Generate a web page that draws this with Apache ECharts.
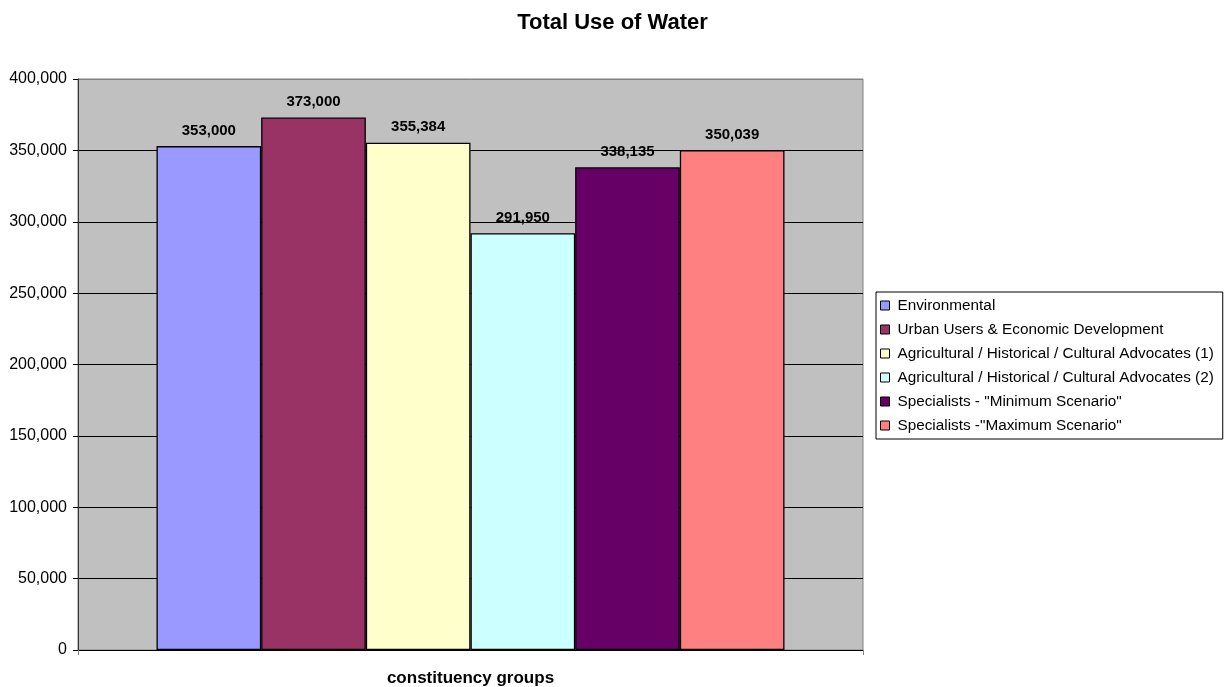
<!DOCTYPE html>
<html>
<head>
<meta charset="utf-8">
<title>Total Use of Water</title>
<script src="https://cdn.jsdelivr.net/npm/echarts@6/dist/echarts.min.js"></script>
<style>
  html, body { margin: 0; padding: 0; background: #fff; }
  #chart { width: 1225px; height: 687px; }
</style>
</head>
<body>
<div id="chart"></div>
<script>
// Constituency groups and their total water use
const groups = [
  'Environmental',
  'Urban Users & Economic Development',
  'Agricultural / Historical / Cultural Advocates (1)',
  'Agricultural / Historical / Cultural Advocates (2)',
  'Specialists - "Minimum Scenario"',
  'Specialists -"Maximum Scenario"'
];
const totals = [353000, 373000, 355384, 291950, 338135, 350039];
const groupColors = ['#9999FF', '#993366', '#FFFFCC', '#CCFFFF', '#660066', '#FF8080'];
const yTicks = { min: 0, max: 400000, step: 50000 };

const FONT = '"Liberation Sans", Arial, sans-serif';
const fmt = v => String(v).replace(/\B(?=(\d{3})+(?!\d))/g, ',');

const chart = echarts.init(document.getElementById('chart'), null, { renderer: 'canvas' });

const series = groups.map((name, i) => ({
  name,
  type: 'bar',
  data: [totals[i]],
  barGap: '0%',
  barCategoryGap: '20%',
  itemStyle: { color: groupColors[i], borderColor: '#000', borderWidth: 1.3 },
  label: {
    show: true,
    position: 'top',
    distance: 8,
    formatter: p => fmt(p.value),
    color: '#000',
    fontFamily: FONT,
    fontWeight: 'bold',
    fontSize: 15
  }
}));

// split line colours: the top one coincides with the plot border
const nTicks = (yTicks.max - yTicks.min) / yTicks.step + 1;
const splitColors = Array.from({ length: nTicks }, (_, i) => (i === nTicks - 1 ? '#808080' : '#000'));

chart.setOption({
  animation: false,
  backgroundColor: '#fff',
  title: {
    text: 'Total Use of Water',
    left: 'center',
    top: 7,
    textStyle: { fontFamily: FONT, fontWeight: 'bold', fontSize: 22, color: '#000' }
  },
  legend: {
    orient: 'vertical',
    left: 876,
    top: 292,
    padding: [6, 9, 6, 4],
    itemGap: 9,
    itemWidth: 9,
    itemHeight: 9,
    itemStyle: { borderColor: '#000', borderWidth: 1 },
    borderColor: '#000',
    borderWidth: 1,
    backgroundColor: '#fff',
    icon: 'rect',
    textStyle: { fontFamily: FONT, fontSize: 15.3, color: '#000', padding: [0, 0, 0, 3], lineHeight: 15 },
    data: groups
  },
  grid: {
    left: 78,
    right: 362,
    top: 79,
    bottom: 37,
    outerBoundsMode: 'none',
    show: true,
    backgroundColor: '#C0C0C0',
    borderColor: '#808080',
    borderWidth: 1
  },
  xAxis: {
    type: 'category',
    data: [''],
    name: 'constituency groups',
    nameLocation: 'middle',
    nameGap: 20,
    nameTextStyle: { fontFamily: FONT, fontWeight: 'bold', fontSize: 17, color: '#000' },
    axisLine: { lineStyle: { color: '#000', width: 1 } },
    axisTick: { show: true, length: 5, lineStyle: { color: '#808080' } },
    axisLabel: { show: false }
  },
  yAxis: {
    type: 'value',
    min: yTicks.min,
    max: yTicks.max,
    interval: yTicks.step,
    axisLine: { show: true, lineStyle: { color: '#333', width: 1 } },
    axisTick: { show: true, length: 5, lineStyle: { color: '#000' } },
    axisLabel: {
      formatter: v => fmt(v),
      fontFamily: FONT,
      fontSize: 16,
      color: '#000',
      margin: 11
    },
    splitLine: { show: true, lineStyle: { color: splitColors, width: 1 } }
  },
  series
});
</script>
</body>
</html>
